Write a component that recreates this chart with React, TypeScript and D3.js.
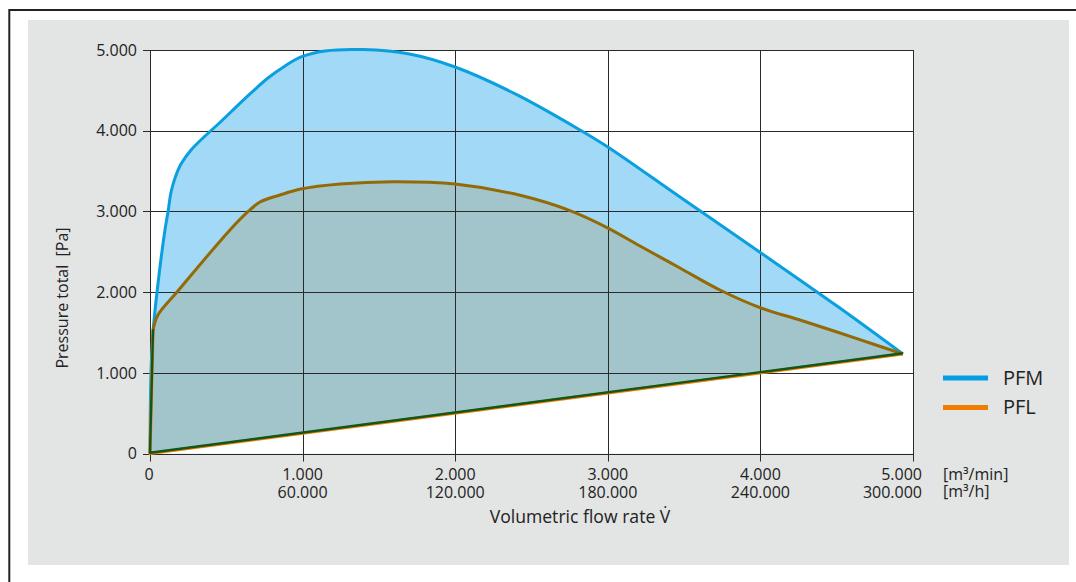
import React from 'react';
import * as d3 from 'd3';

// Flow rate [m³/min] and total pressure [Pa]
const flowPFM = [0, 6.6, 19.7, 46, 98, 118, 138, 164, 203, 269, 347, 433, 537, 655, 773, 885, 990, 1147, 1396, 1700, 1999, 2400, 2818, 3000, 3473, 4004, 4500, 4934];
const pressurePFM = [0, 1010, 1506, 2001, 2770, 2993, 3240, 3414, 3587, 3761, 3910, 4058, 4244, 4455, 4653, 4802, 4914, 4988, 5005, 4950, 4789, 4450, 4009, 3798, 3178, 2485, 1830, 1233];

const flowPFL = [20, 52, 177, 524, 642, 721, 852, 990, 1245, 1592, 1999, 2425, 2752, 2995, 3211, 3473, 3735, 4004, 4260, 4502, 4718, 4934];
const pressurePFL = [1530, 1716, 2001, 2770, 2996, 3116, 3203, 3277, 3339, 3368, 3339, 3200, 3010, 2800, 2571, 2299, 2026, 1803, 1654, 1506, 1369, 1233];

const baseFlow = [20, 0, 4934];
const basePressure = [1530, 0, 1233];

const xTicks = [0, 1000, 2000, 3000, 4000, 5000];
const xLabelsMin = ['0', '1.000', '2.000', '3.000', '4.000', '5.000'];
const xLabelsHour = ['', '60.000', '120.000', '180.000', '240.000', '300.000'];
const yTicks = [0, 1000, 2000, 3000, 4000, 5000];
const yLabels = ['0', '1.000', '2.000', '3.000', '4.000', '5.000'];

const seriesNames = ['PFM', 'PFL'];
const seriesColors = ['#009fe3', '#f07d00'];

const FONT = "'Open Sans', sans-serif";

export default function App() {
  const x = d3.scaleLinear().domain([0, 5000]).range([150, 913]);
  const y = d3.scaleLinear().domain([0, 5000]).range([453.5, 50]);

  const pfm: [number, number][] = flowPFM.map((f, i) => [f, pressurePFM[i]]);
  const pfl: [number, number][] = flowPFL.map((f, i) => [f, pressurePFL[i]]);
  const base: [number, number][] = baseFlow.map((f, i) => [f, basePressure[i]]);

  const line = d3
    .line<[number, number]>()
    .x((d) => x(d[0]))
    .y((d) => y(d[1]))
    .curve(d3.curveCatmullRom.alpha(0.5));
  const straight = d3
    .line<[number, number]>()
    .x((d) => x(d[0]))
    .y((d) => y(d[1]));

  const areaPFM = line(pfm) + 'Z';
  const areaPFL = straight([[0, 0], [flowPFL[0], pressurePFL[0]]]) + line(pfl)!.replace(/^M/, 'L') + 'Z';

  const crisp = (v: number) => Math.round(v) + 0.5;
  const x0 = x(0), x1 = x(5000), y0 = y(0), y1 = y(5000);

  return (
    <svg
      width={1076}
      height={582}
      style={{ position: 'absolute', left: 0, top: 0, display: 'block', background: '#fff' }}
    >
      {/* outer frame */}
      <rect x={9.3} y={10} width={1200} height={700} fill="none" stroke="#222" strokeWidth={2} />
      {/* grey panel */}
      <rect x={28} y={20} width={1041} height={545} fill="#e3e4e4" />
      {/* plot area */}
      <rect x={x0} y={y1} width={x1 - x0} height={y0 - y1} fill="#fff" />

      {/* areas */}
      <path d={areaPFM} fill="#a1d9f6" />
      <path d={areaPFL} fill="#a2c5cc" />

      {/* grid */}
      {xTicks.map((t) => (
        <line key={'gx' + t} x1={crisp(x(t))} x2={crisp(x(t))} y1={y1} y2={y0 + 8} stroke="#2a2a2a" strokeWidth={1} />
      ))}
      {yTicks.map((t) => (
        <line key={'gy' + t} x1={x0 - 7} x2={x1} y1={crisp(y(t))} y2={crisp(y(t))} stroke="#2a2a2a" strokeWidth={1} />
      ))}

      {/* curves */}
      <path d={line(pfm)!} fill="none" stroke="#0aa0e0" strokeWidth={3} strokeLinejoin="round" />
      <path d={line(pfl)!} fill="none" stroke="#946a06" strokeWidth={3} strokeLinejoin="round" />
      <path d={straight(base)!} fill="none" stroke="#f07d00" strokeWidth={3.2} strokeLinejoin="round" />
      <path d={straight(base)!} transform="translate(0,-0.7)" fill="none" stroke="#11561a" strokeWidth={2.4} strokeLinejoin="round" />

      {/* y labels */}
      {yTicks.map((t, i) => (
        <text key={'yl' + t} x={137} y={y(t) + 5.7} textAnchor="end" fontFamily={FONT} fontSize={16} fill="#222">
          {yLabels[i]}
        </text>
      ))}
      {/* x labels */}
      {xTicks.map((t, i) => {
        const last = i === xTicks.length - 1;
        const xx = last ? x(t) + 9 : x(t);
        const anchor = last ? 'end' : 'middle';
        return (
          <g key={'xl' + t}>
            <text x={i === 0 ? xx - 1 : xx} y={480} textAnchor={anchor} fontFamily={FONT} fontSize={16} fill="#222">
              {xLabelsMin[i]}
            </text>
            {xLabelsHour[i] && (
              <text x={xx} y={498} textAnchor={anchor} fontFamily={FONT} fontSize={16} fill="#222">
                {xLabelsHour[i]}
              </text>
            )}
          </g>
        );
      })}
      <text x={943} y={480} fontFamily={FONT} fontSize={16} fill="#222">[m³/min]</text>
      <text x={943} y={497} fontFamily={FONT} fontSize={16} fill="#222">[m³/h]</text>

      {/* axis titles */}
      <text x={580} y={523} textAnchor="middle" fontFamily={FONT} fontSize={17.6} fill="#222">
        Volumetric flow rate V̇
      </text>
      <text
        transform="translate(68,298) rotate(-90)"
        textAnchor="middle"
        fontFamily={FONT}
        fontSize={16}
        fill="#222"
        style={{ whiteSpace: 'pre' }}
      >
        {'Pressure total  [Pa]'}
      </text>

      {/* legend */}
      {seriesNames.map((n, i) => (
        <g key={n}>
          <line x1={943} x2={988} y1={378 + i * 29.5} y2={378 + i * 29.5} stroke={seriesColors[i]} strokeWidth={5} />
          <text x={1003} y={384.5 + i * 29.5} fontFamily={FONT} fontSize={20} fill="#222">
            {n}
          </text>
        </g>
      ))}
    </svg>
  );
}
